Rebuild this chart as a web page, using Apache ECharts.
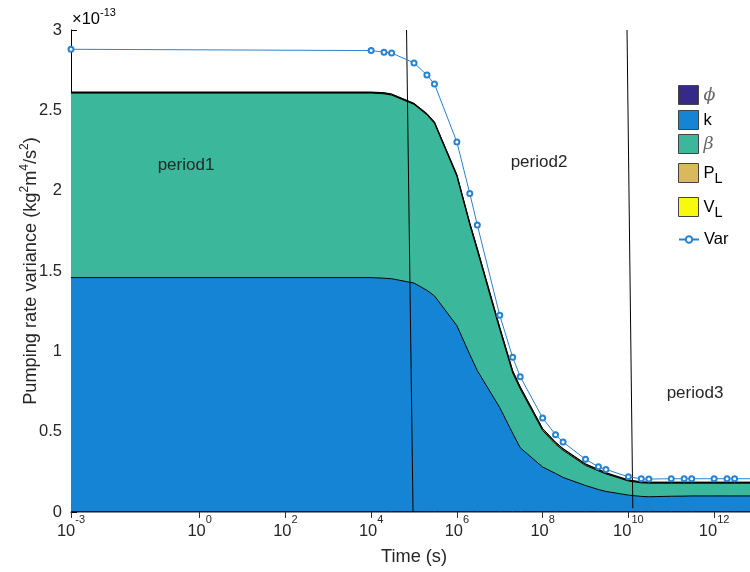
<!DOCTYPE html>
<html>
<head>
<meta charset="utf-8">
<script src="https://cdn.jsdelivr.net/npm/echarts@6/dist/echarts.min.js"></script>
<style>
  html, body { margin: 0; padding: 0; background: #fff; }
  #chart { width: 750px; height: 572px; }
</style>
</head>
<body>
<div id="chart"></div>
<script>
// Sample times (s)
const times = [1e-3, 1e4, 2e4, 3e4, 1e5, 2e5, 3e5, 1e6, 2e6, 3e6, 1e7, 2e7, 3e7,
  1e8, 2e8, 3e8, 1e9, 2e9, 3e9, 1e10, 2e10, 3e10, 1e11, 2e11, 3e11, 1e12, 2e12, 3e12, 1e13];

// Variance contributions, in units of 1e-13 kg^2 m^4 / s^2 (stacked in this order)
const phiVals = [0.002, 0.002, 0.002, 0.002, 0.002, 0.002, 0.002, 0.002, 0.002, 0.002, 0.002, 0.002, 0.002,
  0.002, 0.002, 0.002, 0.002, 0.002, 0.002, 0.002, 0.002, 0.002, 0.002, 0.002, 0.002, 0.002, 0.002, 0.002, 0.002];
const kVals = [1.457, 1.457, 1.453, 1.450, 1.423, 1.378, 1.343, 1.158, 0.978, 0.878, 0.648, 0.488, 0.398,
  0.278, 0.238, 0.213, 0.163, 0.138, 0.126, 0.103, 0.095, 0.093, 0.096, 0.097, 0.098, 0.098, 0.098, 0.098, 0.098];
const betaVals = [1.148, 1.148, 1.148, 1.143, 1.112, 1.092, 1.074, 0.929, 0.807, 0.746, 0.485, 0.375, 0.366,
  0.227, 0.183, 0.169, 0.125, 0.116, 0.109, 0.088, 0.084, 0.084, 0.081, 0.080, 0.079, 0.079, 0.079, 0.079, 0.079];
const pLVals = [0.004, 0.004, 0.004, 0.004, 0.004, 0.005, 0.006, 0.008, 0.010, 0.011, 0.012, 0.012, 0.011,
  0.010, 0.009, 0.008, 0.007, 0.006, 0.005, 0.004, 0.004, 0.004, 0.004, 0.004, 0.004, 0.004, 0.004, 0.004, 0.004];
const vLVals = [0.003, 0.003, 0.003, 0.003, 0.003, 0.003, 0.003, 0.003, 0.003, 0.003, 0.003, 0.003, 0.003,
  0.003, 0.003, 0.003, 0.003, 0.003, 0.003, 0.003, 0.003, 0.003, 0.003, 0.003, 0.003, 0.003, 0.003, 0.003, 0.003];

// Total variance
const varVals = [2.880, 2.872, 2.862, 2.857, 2.795, 2.720, 2.664, 2.303, 1.982, 1.786, 1.224, 0.963, 0.842,
  0.585, 0.481, 0.435, 0.328, 0.282, 0.265, 0.219, 0.207, 0.205, 0.207, 0.207, 0.207, 0.207, 0.207, 0.207, 0.207];

// Period boundaries: [time, variance] end points
const boundary1 = [[6.7e4, 3.0], [9.5e4, 0.0]];
const boundary2 = [[9.3e9, 3.0], [1.27e10, 0.023]];

const xTickValues = [1e-3, 1e0, 1e2, 1e4, 1e6, 1e8, 1e10, 1e12];
const yTickLabels = ['0', '0.5', '1', '1.5', '2', '2.5', '3'];
const yScaleExponent = -13;
const periodLabels = ['period1', 'period2', 'period3'];

const FONT = '"Liberation Sans", Arial, Helvetica, sans-serif';
const TXT = '#262626';
const TICK_FS = 16.5;
const NAME_FS = 18.2;
const VAR_COLOR = '#2882d2';

// [value, time] rows so the stack runs along the variance dimension
const stackRows = vals => times.map((t, i) => [vals[i], t]);

const layers = [
  { name: 'phi', label: '{g|ϕ}', color: '#352a87', vals: phiVals, top: 85 },
  { name: 'k', label: '{m|k}', color: '#1584d5', vals: kVals, top: 110 },
  { name: 'beta', label: '{g|β}', color: '#3bb89b', vals: betaVals, top: 134 },
  { name: 'PL', label: '{p|P}{sb|L}', color: '#d8ba5a', vals: pLVals, top: 163 },
  { name: 'VL', label: '{p|V}{sb|L}', color: '#f8fa0d', vals: vLVals, top: 197 }
];

const legendRich = {
  m: { fontSize: TICK_FS, fontFamily: FONT, color: '#000' },
  g: { fontSize: 17.5, fontFamily: '"DejaVu Serif", serif', fontStyle: 'italic', color: '#666' },
  p: { fontSize: TICK_FS, fontFamily: FONT, color: '#000', lineHeight: 26 },
  sb: { fontSize: 14.5, fontFamily: FONT, color: '#000', lineHeight: 6, verticalAlign: 'bottom' }
};

const supRich = {
  b: { fontSize: TICK_FS, fontFamily: FONT, color: TXT, lineHeight: 26, verticalAlign: 'bottom' },
  s: { fontSize: 11, fontFamily: FONT, color: TXT, lineHeight: 8, verticalAlign: 'top' }
};

const areaSeries = layers.map(l => ({
  type: 'line',
  name: l.name,
  stack: 'variance',
  data: stackRows(l.vals),
  encode: { x: 1, y: 0 },
  symbol: 'none',
  color: l.color,
  lineStyle: { color: '#000', width: 1 },
  areaStyle: { color: l.color, opacity: 1 },
  emphasis: { disabled: true },
  silent: true
}));

const boundarySeries = [boundary1, boundary2].map((b, i) => ({
  type: 'line',
  name: 'boundary' + (i + 1),
  data: b,
  symbol: 'none',
  lineStyle: { color: '#000', width: 1 },
  emphasis: { disabled: true },
  silent: true
}));

const varSeries = {
  type: 'line',
  name: 'Var',
  data: times.map((t, i) => [t, varVals[i]]),
  symbol: 'emptyCircle',
  symbolSize: 5,
  color: VAR_COLOR,
  lineStyle: { color: VAR_COLOR, width: 1 },
  itemStyle: { color: VAR_COLOR, borderWidth: 1 },
  emphasis: { disabled: true },
  silent: true
};

const legends = layers.map(l => ({
  data: [{ name: l.name, itemStyle: { color: l.color, borderColor: '#444', borderWidth: 1 } }],
  left: 678, top: l.top, padding: 0,
  itemWidth: 20, itemHeight: 19, icon: 'rect',
  selectedMode: false,
  formatter: () => l.label,
  textStyle: { rich: legendRich, fontSize: TICK_FS, fontFamily: FONT, color: '#000' }
}));
legends.push({
  data: ['Var'],
  left: 678, top: 231, padding: 0,
  itemWidth: 20, itemHeight: 8,
  selectedMode: false,
  textStyle: { fontSize: TICK_FS, fontFamily: FONT, color: '#000' }
});

const periodText = (x, y, text) => ({
  type: 'text', x, y, z: 100, silent: true,
  style: { text, fontSize: 17, fontFamily: FONT, fill: TXT, align: 'center', verticalAlign: 'middle' }
});

const chart = echarts.init(document.getElementById('chart'));
chart.setOption({
  animation: false,
  backgroundColor: '#fff',
  // the plot box runs a few pixels past the right edge of the canvas
  grid: { left: 71, top: 30, width: 686, height: 482, containLabel: false, outerBoundsMode: 'none' },
  legend: legends,
  xAxis: [{
    type: 'log', logBase: 10, min: 1e-3, max: 1e13,
    position: 'bottom',
    axisLine: { lineStyle: { color: '#000', width: 1 } },
    axisTick: { inside: true, length: 6, customValues: xTickValues, lineStyle: { color: '#000' } },
    axisLabel: {
      customValues: xTickValues, margin: 2,
      formatter: v => '{b|10}{s|' + Math.round(Math.log10(v)) + '}',
      rich: supRich
    },
    splitLine: { show: false },
    name: 'Time (s)', nameLocation: 'middle', nameGap: 36, nameMoveOverlap: false,
    nameTextStyle: { fontSize: NAME_FS, fontFamily: FONT, color: TXT }
  }, {
    type: 'log', logBase: 10, min: 1e-3, max: 1e13,
    position: 'top',
    axisLine: { lineStyle: { color: '#999', width: 1 } },
    axisTick: { inside: true, length: 6, customValues: xTickValues, lineStyle: { color: '#333' } },
    axisLabel: { show: false },
    splitLine: { show: false }
  }],
  yAxis: [{
    type: 'value', min: 0, max: 3, interval: 0.5,
    axisLine: { show: true, lineStyle: { color: '#000', width: 1 } },
    axisTick: { show: true, inside: true, length: 6, lineStyle: { color: '#000' } },
    axisLabel: {
      margin: 9, fontSize: TICK_FS, fontFamily: FONT, color: TXT,
      formatter: (v, i) => yTickLabels[i]
    },
    splitLine: { show: false },
    name: '{n|Pumping rate variance (kg}{s|2}{n|m}{s|4}{n|/s}{s|2}{n|)}',
    nameLocation: 'middle', nameGap: 28, nameRotate: 90, nameMoveOverlap: false,
    nameTextStyle: {
      rich: {
        n: { fontSize: NAME_FS, fontFamily: FONT, color: TXT, lineHeight: 24 },
        s: { fontSize: 12, fontFamily: FONT, color: TXT, lineHeight: 12, verticalAlign: 'top' }
      }
    }
  }, {
    type: 'value', min: 0, max: 3, interval: 0.5, position: 'right',
    axisLine: { show: true, lineStyle: { color: '#000', width: 1 } },
    axisTick: { show: true, inside: true, length: 6, lineStyle: { color: '#000' } },
    axisLabel: { show: false },
    splitLine: { show: false }
  }],
  graphic: [
    {
      type: 'text', left: 72, top: 7, z: 100, silent: true,
      style: {
        text: '{b|×10}{s|' + yScaleExponent + '}',
        rich: {
          b: { fontSize: TICK_FS, fontFamily: FONT, color: TXT, lineHeight: 24 },
          s: { fontSize: 11, fontFamily: FONT, color: TXT, lineHeight: 12, verticalAlign: 'top' }
        }
      }
    },
    periodText(186, 165, periodLabels[0]),
    periodText(539, 162, periodLabels[1]),
    periodText(695, 393, periodLabels[2])
  ],
  series: [...areaSeries, ...boundarySeries, varSeries]
});
</script>
</body>
</html>
